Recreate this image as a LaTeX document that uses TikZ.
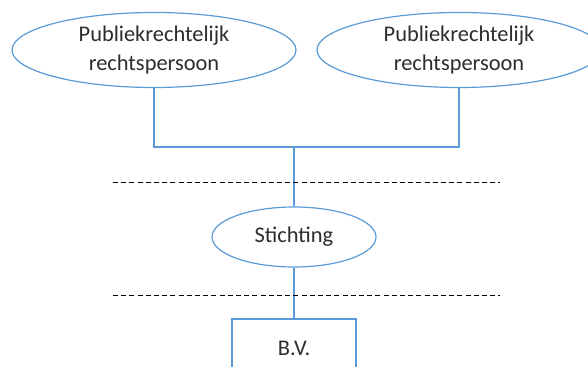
\documentclass[tikz,border=0pt]{standalone}
\usepackage{fontspec}
\setmainfont{Carlito}
\usepackage{tikz}
\usetikzlibrary{shapes.geometric,calc}

\definecolor{lineblue}{RGB}{91,155,213}
\definecolor{txtgray}{RGB}{45,45,45}

\begin{document}
\begin{tikzpicture}[
  x=0.5pt, y=-0.5pt,
  font=\fontsize{11.2}{14.5}\selectfont, text=txtgray,
  ent/.style={draw=lineblue, ellipse, line width=0.6pt, align=center,
              inner sep=0pt, fill=white},
  bvbox/.style={draw=lineblue, rectangle, line width=0.6pt, align=center,
                minimum width=62pt, minimum height=29pt, fill=white},
  link/.style={draw=lineblue, line width=0.6pt},
  layer/.style={draw=black, line width=0.5pt, dash pattern=on 2.5pt off 1.6pt},
]
\clip (0,0) rectangle (588,367);
\node[ent, minimum width=142pt, minimum height=37.5pt] (pr1) at (154,50) {Publiekrechtelijk\\rechtspersoon};
\node[ent, minimum width=142pt, minimum height=37.5pt] (pr2) at (459,50) {Publiekrechtelijk\\rechtspersoon};
\node[ent, minimum width=82pt, minimum height=30pt] (st) at (294,237) {Stichting};
\node[bvbox] (bv) at (294,348) {B.V.};
\coordinate (join) at (st |- 0,147);
\draw[link] (pr1.south) |- (join) -| (pr2.south);
\draw[link] (join) -- (st.north);
\draw[link] (st.south) -- (bv.north);
% scheidingslijnen
\coordinate (d1l) at (113,183);
\coordinate (d1r) at (500,183);
\coordinate (d2l) at (113,296);
\coordinate (d2r) at (500,296);
\draw[layer] (d1l) -- (d1r);
\draw[layer] (d2l) -- (d2r);
\end{tikzpicture}
\end{document}
